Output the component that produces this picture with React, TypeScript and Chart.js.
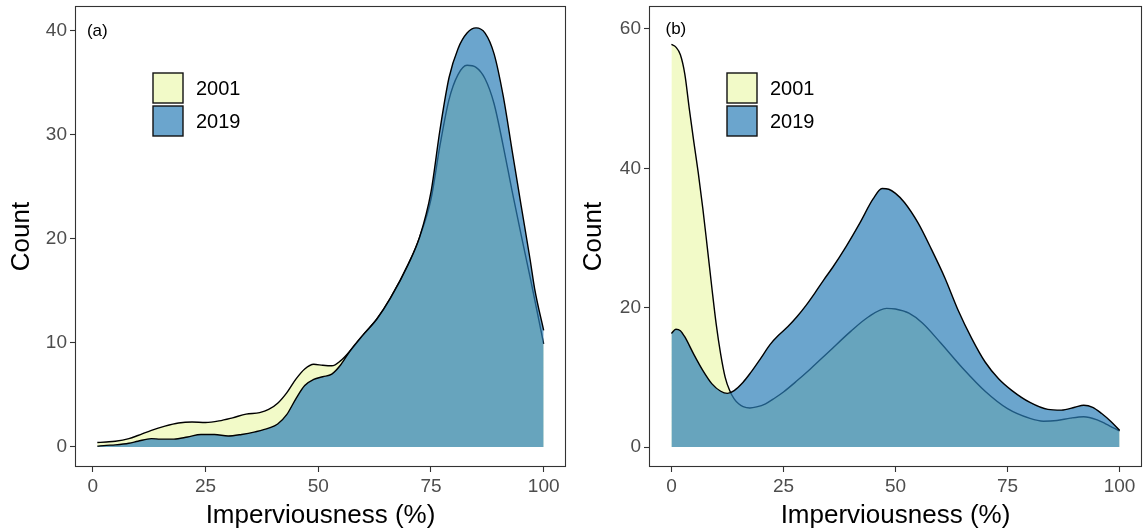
import React, { useEffect, useRef } from 'react';
import { Chart, registerables } from 'chart.js';

Chart.register(...registerables);

const FONT = '"Liberation Sans", Arial, Helvetica, sans-serif';

// ---------- data ----------
const seriesLabels = ['2001', '2019'];
const xTicks = [0, 25, 50, 75, 100];
const yTicksA = [0, 10, 20, 30, 40];
const yTicksB = [0, 20, 40, 60];
const panelLabels = ['(a)', '(b)'];
const xTitle = 'Imperviousness (%)';
const yTitle = 'Count';

// Panel (a)
const a2001X = [1, 3, 5, 8, 10, 13, 16, 19, 22, 25, 28, 31, 34, 37, 39, 41, 43, 45, 47, 49, 51, 53, 55, 57, 60, 63, 66, 70, 72.5, 75, 77, 79, 81, 83, 85, 87, 89, 91, 93, 95, 97, 100];
const a2001Y = [0.42, 0.48, 0.55, 0.8, 1.1, 1.6, 2.0, 2.3, 2.4, 2.35, 2.5, 2.8, 3.15, 3.3, 3.6, 4.2, 5.2, 6.5, 7.5, 7.95, 7.85, 7.8, 8.3, 9.2, 10.8, 12.3, 14.3, 17.6, 20.2, 23.8, 29.0, 33.4, 35.8, 36.7, 36.5, 35.4, 33.0, 29.0, 24.6, 20.4, 16.3, 9.9];
const a2019X = [1, 3, 5, 8, 10, 13, 15, 18, 21, 24, 27, 30, 33, 36, 39, 41, 43, 45, 47, 49, 51, 53, 55, 57, 60, 63, 66, 70, 72.5, 75, 77, 79, 81, 83, 85, 87, 89, 91, 93, 95, 97, 98, 100];
const a2019Y = [0.08, 0.15, 0.2, 0.35, 0.55, 0.8, 0.75, 0.75, 0.95, 1.2, 1.2, 1.05, 1.2, 1.45, 1.8, 2.2, 3.1, 4.6, 5.9, 6.5, 6.75, 7.0, 7.9, 9.2, 10.8, 12.3, 14.3, 17.6, 20.2, 24.5, 30.5, 35.5, 38.3, 39.8, 40.3, 39.8, 37.8, 33.8, 28.5, 23.2, 18.0, 15.2, 11.2];

// Panel (b)
const b2001X = [0, 1, 2, 3, 4, 5, 6, 7, 8, 9, 10, 11, 12, 13, 14, 15, 16, 17.5, 19, 21, 23, 25, 28, 31, 35, 40, 44, 48, 50, 53, 56, 60, 65, 70, 75, 80, 83, 86, 89, 92, 95, 97, 100];
const b2001Y = [57.8, 57.4, 56.3, 53.5, 48.5, 43.8, 39.3, 34.3, 28.7, 23.0, 17.6, 13.3, 10.0, 8.1, 6.9, 6.2, 5.8, 5.6, 5.75, 6.2, 7.0, 7.9, 9.5, 11.2, 13.6, 16.6, 18.7, 19.9, 19.8, 19.2, 17.8, 15.0, 11.3, 8.0, 5.5, 4.1, 3.7, 3.8, 4.15, 4.35, 3.9, 3.3, 2.3];
const b2019X = [0, 1, 2, 3, 5, 7, 9, 11, 12.5, 14, 16, 17.6, 20, 22, 24, 26, 28, 30, 32, 34, 36, 39, 42, 45, 47, 48.5, 50, 52, 55, 58, 61, 64, 67, 70, 73, 76, 80, 84, 87, 90, 92, 94, 96, 98, 100];
const b2019Y = [16.3, 16.9, 16.7, 15.8, 13.3, 11.0, 9.1, 8.0, 7.7, 8.1, 9.3, 10.6, 12.8, 14.7, 16.1, 17.3, 18.7, 20.3, 22.1, 24.0, 25.8, 28.8, 32.1, 35.6, 37.1, 37.0, 36.4, 35.1, 32.2, 28.4, 24.3, 19.6, 15.6, 12.2, 9.8, 8.1, 6.4, 5.4, 5.3, 5.7, 6.0, 5.7, 4.8, 3.7, 2.4];

// ---------- styles ----------
const fill2001 = 'rgba(237,248,177,0.7)';
const fill2019 = 'rgba(44,127,184,0.7)';
const fills = [fill2001, fill2019];

const toPoints = (xs: number[], ys: number[]) => xs.map((x, i) => ({ x, y: ys[i] }));

const zeroPad = (s: any) => {
  s.paddingTop = 0;
  s.paddingBottom = 0;
  s.paddingLeft = 0;
  s.paddingRight = 0;
};

const overlayPlugin = {
  id: 'overlay',
  afterDraw(chart: any, _args: any, opts: any) {
    const { ctx, chartArea: ca } = chart;
    const xs = chart.scales.x;
    const ys = chart.scales.y;
    ctx.save();
    // panel border
    ctx.strokeStyle = '#333333';
    ctx.lineWidth = 1.1;
    ctx.strokeRect(ca.left + 0.5, ca.top + 0.5, ca.right - ca.left - 1, ca.bottom - ca.top - 1);
    // panel label
    ctx.fillStyle = '#000';
    ctx.font = `17px ${FONT}`;
    ctx.textAlign = 'center';
    ctx.textBaseline = 'middle';
    ctx.fillText(opts.label, xs.getPixelForValue(opts.labelX), ys.getPixelForValue(opts.labelY));
    // legend
    const kx = ca.left + 78;
    const ky = 73;
    const size = 30;
    const gap = 33;
    ctx.font = `20px ${FONT}`;
    ctx.textAlign = 'left';
    seriesLabels.forEach((lab, i) => {
      const y = ky + i * gap;
      ctx.fillStyle = '#ffffff';
      ctx.fillRect(kx, y, size, size);
      ctx.fillStyle = fills[i];
      ctx.fillRect(kx, y, size, size);
      ctx.strokeStyle = '#111';
      ctx.lineWidth = 1.4;
      ctx.strokeRect(kx, y, size, size);
      ctx.fillStyle = '#000';
      ctx.fillText(lab, kx + 43, y + size / 2 + 1);
    });
    ctx.restore();
  },
};

type PanelProps = {
  left: number;
  width: number;
  yAxisWidth: number;
  rightPad: number;
  xMin: number;
  xMax: number;
  yMin: number;
  yMax: number;
  yTicks: number[];
  d2001: { x: number; y: number }[];
  d2019: { x: number; y: number }[];
  label: string;
  labelY: number;
};

function Panel(p: PanelProps) {
  const ref = useRef<HTMLCanvasElement | null>(null);
  useEffect(() => {
    if (!ref.current) return;
    const mk = (lab: string, data: any[], fill: string, order: number) => ({
      label: lab,
      data,
      backgroundColor: fill,
      borderColor: '#000000',
      borderWidth: 1.4,
      fill: 'origin',
      pointRadius: 0,
      cubicInterpolationMode: 'monotone',
      order,
    });
    const chart = new Chart(ref.current, {
      type: 'line',
      data: {
        datasets: [
          mk(seriesLabels[0], p.d2001, fill2001, 2),
          mk(seriesLabels[1], p.d2019, fill2019, 1),
        ] as any,
      },
      options: {
        animation: false,
        responsive: false,
        devicePixelRatio: 1,
        layout: { padding: { left: 0, right: p.rightPad, top: 6, bottom: 0 } },
        plugins: {
          legend: { display: false },
          tooltip: { enabled: false },
          overlay: { label: p.label, labelX: 1, labelY: p.labelY },
        } as any,
        scales: {
          x: {
            type: 'linear',
            min: p.xMin,
            max: p.xMax,
            afterFit: (s: any) => { s.height = 64; zeroPad(s); },
            afterBuildTicks: (s: any) => { s.ticks = xTicks.map((v) => ({ value: v })); },
            grid: { drawOnChartArea: false, drawTicks: true, tickLength: 5, color: '#333333', tickWidth: 1.1 },
            border: { display: false },
            ticks: { color: '#4d4d4d', font: { family: FONT, size: 19 }, padding: 3, maxRotation: 0, autoSkip: false },
            title: { display: true, text: xTitle, color: '#000', font: { family: FONT, size: 26 }, padding: { top: 0, bottom: 0 } },
          },
          y: {
            type: 'linear',
            min: p.yMin,
            max: p.yMax,
            afterFit: (s: any) => { s.width = p.yAxisWidth; zeroPad(s); },
            afterBuildTicks: (s: any) => { s.ticks = p.yTicks.map((v) => ({ value: v })); },
            grid: { drawOnChartArea: false, drawTicks: true, tickLength: 5, color: '#333333', tickWidth: 1.1 },
            border: { display: false },
            ticks: { color: '#4d4d4d', font: { family: FONT, size: 19 }, padding: 3, autoSkip: false },
            title: { display: true, text: yTitle, color: '#000', font: { family: FONT, size: 26 }, padding: { top: 6, bottom: 0 } },
          },
        },
      } as any,
      plugins: [overlayPlugin],
    });
    return () => chart.destroy();
  }, []);
  return (
    <canvas
      ref={ref}
      width={p.width}
      height={531}
      style={{ position: 'absolute', left: p.left, top: 0, width: p.width, height: 531, display: 'block' }}
    />
  );
}

export default function App() {
  return (
    <div style={{ position: 'absolute', left: 0, top: 0, width: 1143, height: 531, background: '#fff', overflow: 'hidden' }}>
      <Panel
        left={0}
        width={572}
        yAxisWidth={75}
        rightPad={6}
        xMin={-3.95}
        xMax={104.95}
        yMin={-1.93}
        yMax={42.4}
        yTicks={yTicksA}
        d2001={toPoints(a2001X, a2001Y)}
        d2019={toPoints(a2019X, a2019Y)}
        label={panelLabels[0]}
        labelY={40}
      />
      <Panel
        left={572}
        width={571}
        yAxisWidth={77}
        rightPad={1}
        xMin={-5}
        xMax={105}
        yMin={-2.87}
        yMax={63.3}
        yTicks={yTicksB}
        d2001={toPoints(b2001X, b2001Y)}
        d2019={toPoints(b2019X, b2019Y)}
        label={panelLabels[1]}
        labelY={60}
      />
    </div>
  );
}
